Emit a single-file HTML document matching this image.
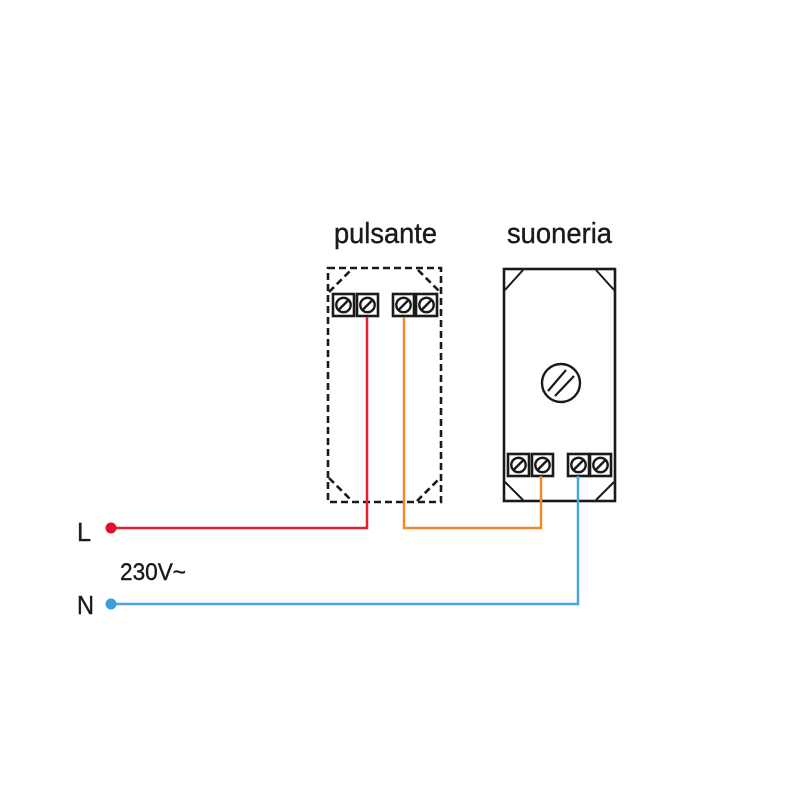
<!DOCTYPE html>
<html><head><meta charset="utf-8"><style>body{margin:0;background:#fff}svg{display:block}</style></head>
<body>
<svg width="800" height="800" viewBox="0 0 800 800" xmlns="http://www.w3.org/2000/svg">
<defs>
<g id="t">
<rect x="0" y="0" width="21" height="22" fill="#fff" stroke="#1a1a1a" stroke-width="2.6"/>
<circle cx="10.5" cy="11" r="7.2" fill="#fff" stroke="#1a1a1a" stroke-width="2.4"/>
<line x1="5.5" y1="16" x2="15.5" y2="6" stroke="#1a1a1a" stroke-width="2.4"/>
</g>
</defs>
<g font-family="Liberation Sans, DejaVu Sans, sans-serif" fill="#1a1a1a" stroke="#1a1a1a" stroke-width="0.4">
<text x="334" y="243" font-size="29" textLength="103" lengthAdjust="spacingAndGlyphs">pulsante</text>
<text x="507" y="243" font-size="29" textLength="105" lengthAdjust="spacingAndGlyphs">suoneria</text>
<text x="77" y="541" font-size="26" textLength="14" lengthAdjust="spacingAndGlyphs">L</text>
<text x="77" y="614" font-size="26" textLength="17" lengthAdjust="spacingAndGlyphs">N</text>
<text x="120" y="580" font-size="24" textLength="66" lengthAdjust="spacingAndGlyphs">230V~</text>
</g>
<rect x="328" y="268" width="113" height="234" fill="none" stroke="#1a1a1a" stroke-width="2.6" stroke-dasharray="7,4"/>
<g stroke="#1a1a1a" stroke-width="2.6" stroke-dasharray="7,4" fill="none">
<path d="M329 292 L351 270"/><path d="M418 270 L440 292"/>
<path d="M329 478 L352 501"/><path d="M417 501 L440 478"/>
</g>
<use href="#t" x="333" y="294"/><use href="#t" x="357" y="294"/>
<use href="#t" x="393" y="294"/><use href="#t" x="416" y="294"/>
<rect x="504" y="269" width="111" height="232" fill="none" stroke="#1a1a1a" stroke-width="2.6"/>
<g stroke="#1a1a1a" stroke-width="2"><path d="M505 290 L523 270"/><path d="M596 270 L614 290"/><path d="M505 482 L523 500"/><path d="M596 500 L614 482"/></g>
<circle cx="561" cy="383" r="19" fill="none" stroke="#1a1a1a" stroke-width="2.4"/>
<line x1="548" y1="391" x2="566" y2="370" stroke="#1a1a1a" stroke-width="2.2"/>
<line x1="555" y1="396" x2="574" y2="376" stroke="#1a1a1a" stroke-width="2.2"/>
<use href="#t" x="508" y="454"/><use href="#t" x="532" y="454"/>
<use href="#t" x="568" y="454"/><use href="#t" x="590" y="454"/>
<polyline points="367,317 367,528 111,528" fill="none" stroke="#e2202f" stroke-width="2.5"/>
<polyline points="404,317 404,528 541,528 541,476" fill="none" stroke="#ec8a2e" stroke-width="2.5"/>
<polyline points="578,476 578,604 111,604" fill="none" stroke="#4aa3dc" stroke-width="2.5"/>
<circle cx="111" cy="528" r="5.5" fill="#e2102a"/>
<circle cx="111" cy="604" r="5.5" fill="#3a9ddc"/>
</svg>
</body></html>
